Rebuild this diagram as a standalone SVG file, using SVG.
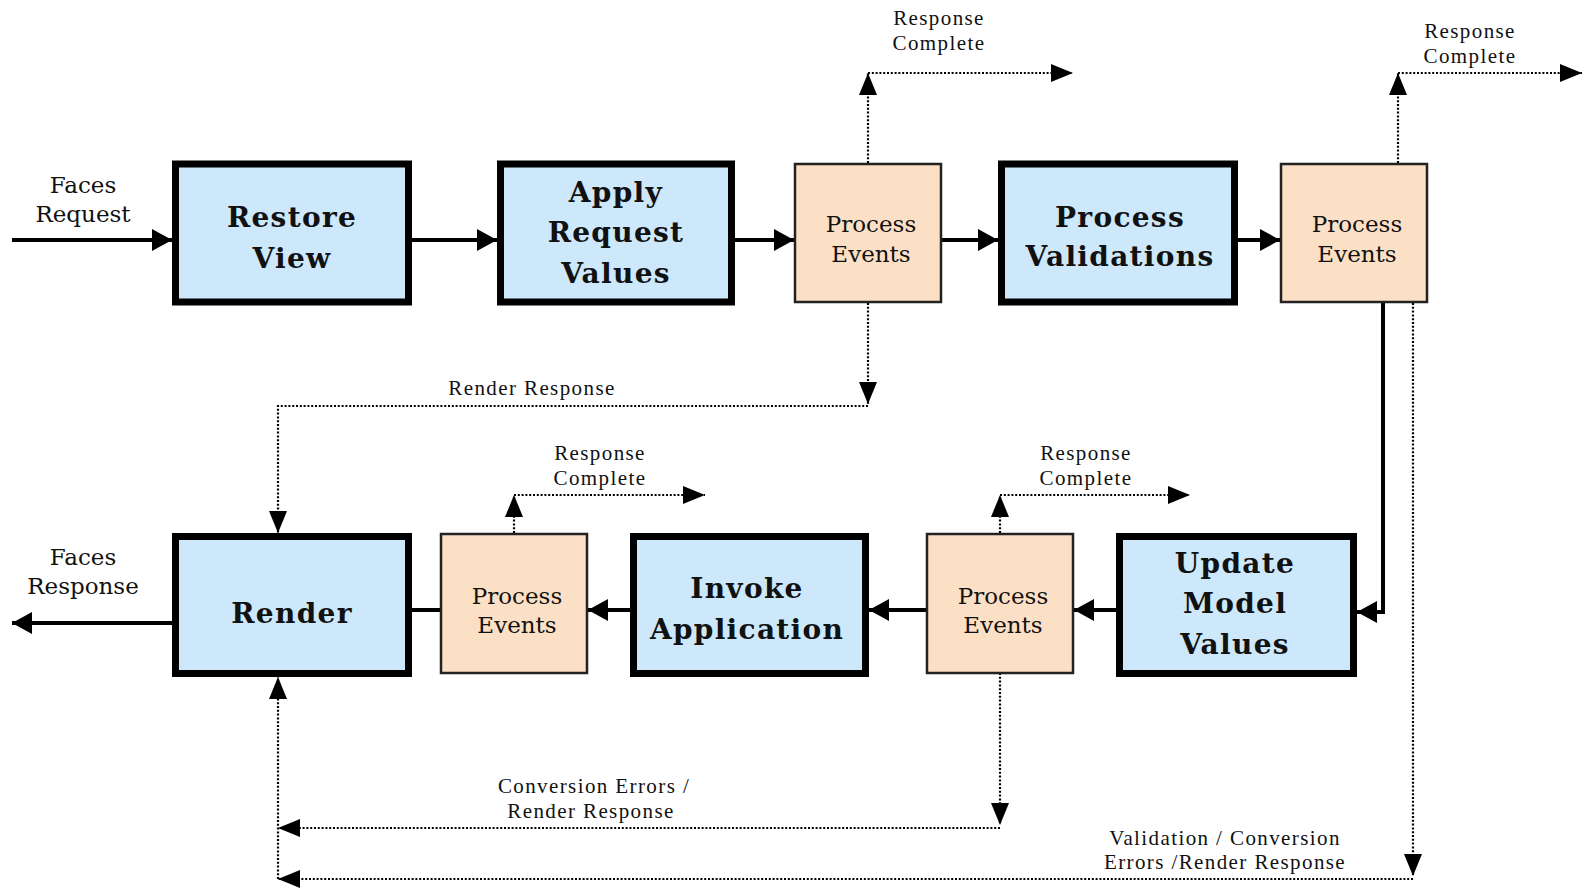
<svg xmlns="http://www.w3.org/2000/svg" width="1584" height="889" viewBox="0 0 1584 889">
<defs>
<style>
.phase{fill:#cce8fa;stroke:#000;stroke-width:7}
.evt{fill:#fce0c6;stroke:#222;stroke-width:2.5}
.big{font-family:"DejaVu Serif","Liberation Serif",serif;font-weight:bold;font-size:28px;fill:#111;text-anchor:middle;letter-spacing:1.3px}
.mid{font-family:"DejaVu Serif","Liberation Serif",serif;font-size:23px;fill:#111;text-anchor:middle}
.sm{font-family:"Liberation Serif","DejaVu Serif",serif;font-size:21px;fill:#111;text-anchor:middle;letter-spacing:1.4px}
.solid{fill:none;stroke:#000;stroke-width:4}
.dot{fill:none;stroke:#000;stroke-width:2.2;stroke-dasharray:2 1.8}
</style>
<marker id="ah" markerUnits="userSpaceOnUse" markerWidth="22" markerHeight="22" refX="20" refY="11" orient="auto" viewBox="0 0 22 22">
<path d="M0,0 L20,11 L0,22 z" fill="#000"/>
</marker>
<marker id="ad" markerUnits="userSpaceOnUse" markerWidth="24" markerHeight="20" refX="22" refY="9" orient="auto" viewBox="0 0 24 20">
<path d="M0,0 L22,9 L0,18 z" fill="#000"/>
</marker>
</defs>
<rect width="1584" height="889" fill="#fff"/>

<g id="connectors">
<path class="solid" d="M12,240 H172" marker-end="url(#ah)"/>
<path class="solid" d="M412,240 H497" marker-end="url(#ah)"/>
<path class="solid" d="M735,240 H794" marker-end="url(#ah)"/>
<path class="solid" d="M942,240 H998" marker-end="url(#ah)"/>
<path class="solid" d="M1238,240 H1280" marker-end="url(#ah)"/>
<path class="solid" d="M1383,303 V612 H1357" marker-end="url(#ah)"/>
<path class="solid" d="M1116,610 H1074" marker-end="url(#ah)"/>
<path class="solid" d="M926,610 H869" marker-end="url(#ah)"/>
<path class="solid" d="M630,610 H588" marker-end="url(#ah)"/>
<path class="solid" d="M440,610 H412"/>
<path class="solid" d="M172,623 H12" marker-end="url(#ah)"/>

<path class="dot" d="M868,163 V73" marker-end="url(#ad)"/>
<path class="dot" d="M868,73 H1073" marker-end="url(#ad)"/>
<path class="dot" d="M1398,163 V73" marker-end="url(#ad)"/>
<path class="dot" d="M1398,73 H1582" marker-end="url(#ad)"/>
<path class="dot" d="M868,303 V404" marker-end="url(#ad)"/>
<path class="dot" d="M868,406 H278 V533" marker-end="url(#ad)"/>
<path class="dot" d="M514,533 V495" marker-end="url(#ad)"/>
<path class="dot" d="M514,495 H705" marker-end="url(#ad)"/>
<path class="dot" d="M1000,533 V495" marker-end="url(#ad)"/>
<path class="dot" d="M1000,495 H1190" marker-end="url(#ad)"/>
<path class="dot" d="M1000,673 V825" marker-end="url(#ad)"/>
<path class="dot" d="M1000,828 H278" marker-end="url(#ad)"/>
<path class="dot" d="M1413,303 V876" marker-end="url(#ad)"/>
<path class="dot" d="M1413,879 H278" marker-end="url(#ad)"/>
<path class="dot" d="M278,879 V677" marker-end="url(#ad)"/>

<text class="mid" x="83" y="193">Faces</text>
<text class="mid" x="83" y="222">Request</text>
<text class="mid" x="83" y="565">Faces</text>
<text class="mid" x="83" y="594">Response</text>
<text class="sm" x="939" y="25">Response</text>
<text class="sm" x="939" y="50">Complete</text>
<text class="sm" x="1470" y="38">Response</text>
<text class="sm" x="1470" y="63">Complete</text>
<text class="sm" x="532" y="395">Render Response</text>
<text class="sm" x="600" y="460">Response</text>
<text class="sm" x="600" y="485">Complete</text>
<text class="sm" x="1086" y="460">Response</text>
<text class="sm" x="1086" y="485">Complete</text>
<text class="sm" x="594" y="793">Conversion Errors /</text>
<text class="sm" x="591" y="818">Render Response</text>
<text class="sm" x="1225" y="845">Validation / Conversion</text>
<text class="sm" x="1225" y="869">Errors /Render Response</text>
</g>

<g id="restore-view">
<rect class="phase" x="175.5" y="164" width="233" height="138"/>
<text class="big" x="292" y="227">Restore</text>
<text class="big" x="292" y="268">View</text>
</g>
<g id="apply-request-values">
<rect class="phase" x="500.5" y="164" width="231" height="138"/>
<text class="big" x="616" y="202">Apply</text>
<text class="big" x="616" y="242">Request</text>
<text class="big" x="616" y="283">Values</text>
</g>
<g id="process-events-1">
<rect class="evt" x="795" y="164" width="146" height="138"/>
<text class="mid" x="871" y="232">Process</text>
<text class="mid" x="871" y="262">Events</text>
</g>
<g id="process-validations">
<rect class="phase" x="1001.5" y="164" width="233" height="138"/>
<text class="big" x="1120" y="227">Process</text>
<text class="big" x="1120" y="266">Validations</text>
</g>
<g id="process-events-2">
<rect class="evt" x="1281" y="164" width="146" height="138"/>
<text class="mid" x="1357" y="232">Process</text>
<text class="mid" x="1357" y="262">Events</text>
</g>
<g id="render">
<rect class="phase" x="175.5" y="536.5" width="233" height="137"/>
<text class="big" x="292" y="623">Render</text>
</g>
<g id="process-events-4">
<rect class="evt" x="441" y="534" width="146" height="139"/>
<text class="mid" x="517" y="604">Process</text>
<text class="mid" x="517" y="633">Events</text>
</g>
<g id="invoke-application">
<rect class="phase" x="633.5" y="536.5" width="232" height="137"/>
<text class="big" x="747" y="598">Invoke</text>
<text class="big" x="747" y="639">Application</text>
</g>
<g id="process-events-3">
<rect class="evt" x="927" y="534" width="146" height="139"/>
<text class="mid" x="1003" y="604">Process</text>
<text class="mid" x="1003" y="633">Events</text>
</g>
<g id="update-model-values">
<rect class="phase" x="1119.5" y="536.5" width="234" height="137"/>
<text class="big" x="1235" y="573">Update</text>
<text class="big" x="1235" y="613">Model</text>
<text class="big" x="1235" y="654">Values</text>
</g>
</svg>
